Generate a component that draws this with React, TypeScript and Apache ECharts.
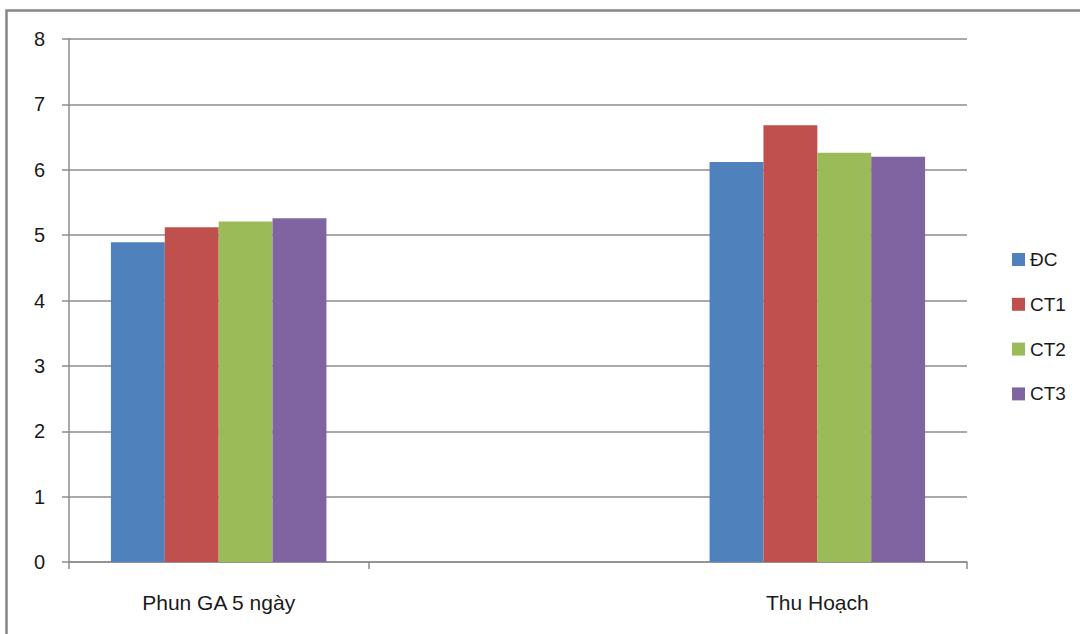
import React, { useEffect, useRef } from "react";
import * as echarts from "echarts";

// Categories (the middle slot is an empty spacer category)
const categories: string[] = ["Phun GA 5 ngày", "", "Thu Hoạch"];
const seriesNames: string[] = ["ĐC", "CT1", "CT2", "CT3"];
const dcValues: (number | string)[] = [4.89, "-", 6.12];
const ct1Values: (number | string)[] = [5.12, "-", 6.68];
const ct2Values: (number | string)[] = [5.21, "-", 6.26];
const ct3Values: (number | string)[] = [5.26, "-", 6.2];
const yTicks: number[] = [0, 1, 2, 3, 4, 5, 6, 7, 8];

const colors = ["#4F81BD", "#C0504D", "#9BBB59", "#8064A2"];
const FONT = "'Liberation Sans', Arial, sans-serif";

export default function App() {
  const ref = useRef<HTMLDivElement>(null);

  useEffect(() => {
    if (!ref.current) return;
    const chart = echarts.init(ref.current, null, { renderer: "svg" });
    const values = [dcValues, ct1Values, ct2Values, ct3Values];

    chart.setOption({
      animation: false,
      backgroundColor: "#ffffff",
      textStyle: { fontFamily: FONT },
      graphic: [
        {
          type: "rect",
          shape: { x: 6.5, y: 10.5, width: 1200, height: 800 },
          style: { fill: "none", stroke: "#878787", lineWidth: 2.5 },
          silent: true,
        },
      ],
      grid: { left: 69, top: 39, right: 113, bottom: 72, containLabel: false },
      legend: {
        orient: "vertical",
        left: 1007,
        top: 245,
        icon: "rect",
        itemWidth: 13,
        itemHeight: 13,
        itemGap: 25.8,
        data: seriesNames,
        textStyle: {
          fontFamily: FONT,
          fontSize: 19,
          lineHeight: 19,
          color: "#1a1a1a",
          padding: [0, 0, 0, 0],
        },
      },
      xAxis: {
        type: "category",
        data: categories,
        boundaryGap: true,
        axisLine: { show: true, lineStyle: { color: "#8c8c8c", width: 1.5 } },
        axisTick: {
          show: true,
          length: 7,
          interval: (index: number) => index !== 2,
          lineStyle: { color: "#8c8c8c", width: 1.5 },
        },
        axisLabel: {
          margin: 30,
          fontSize: 21,
          fontFamily: FONT,
          color: "#1a1a1a",
          interval: 0,
        },
        splitLine: { show: false },
      },
      yAxis: {
        type: "value",
        min: yTicks[0],
        max: yTicks[yTicks.length - 1],
        interval: 1,
        axisLine: { show: true, lineStyle: { color: "#8c8c8c", width: 1.5 } },
        axisTick: { show: true, length: 7, lineStyle: { color: "#8c8c8c", width: 1.5 } },
        axisLabel: {
          margin: 24,
          fontSize: 20,
          fontFamily: FONT,
          color: "#1a1a1a",
        },
        splitLine: { show: true, lineStyle: { color: "#8c8c8c", width: 1.5 } },
      },
      series: seriesNames.map((name, i) => ({
        name,
        type: "bar",
        data: values[i],
        barGap: "0%",
        barCategoryGap: "28%",
        itemStyle: { color: colors[i] },
      })),
    });

    return () => chart.dispose();
  }, []);

  return (
    <div
      ref={ref}
      style={{ position: "fixed", left: 0, top: 0, width: 1080, height: 634 }}
    />
  );
}
